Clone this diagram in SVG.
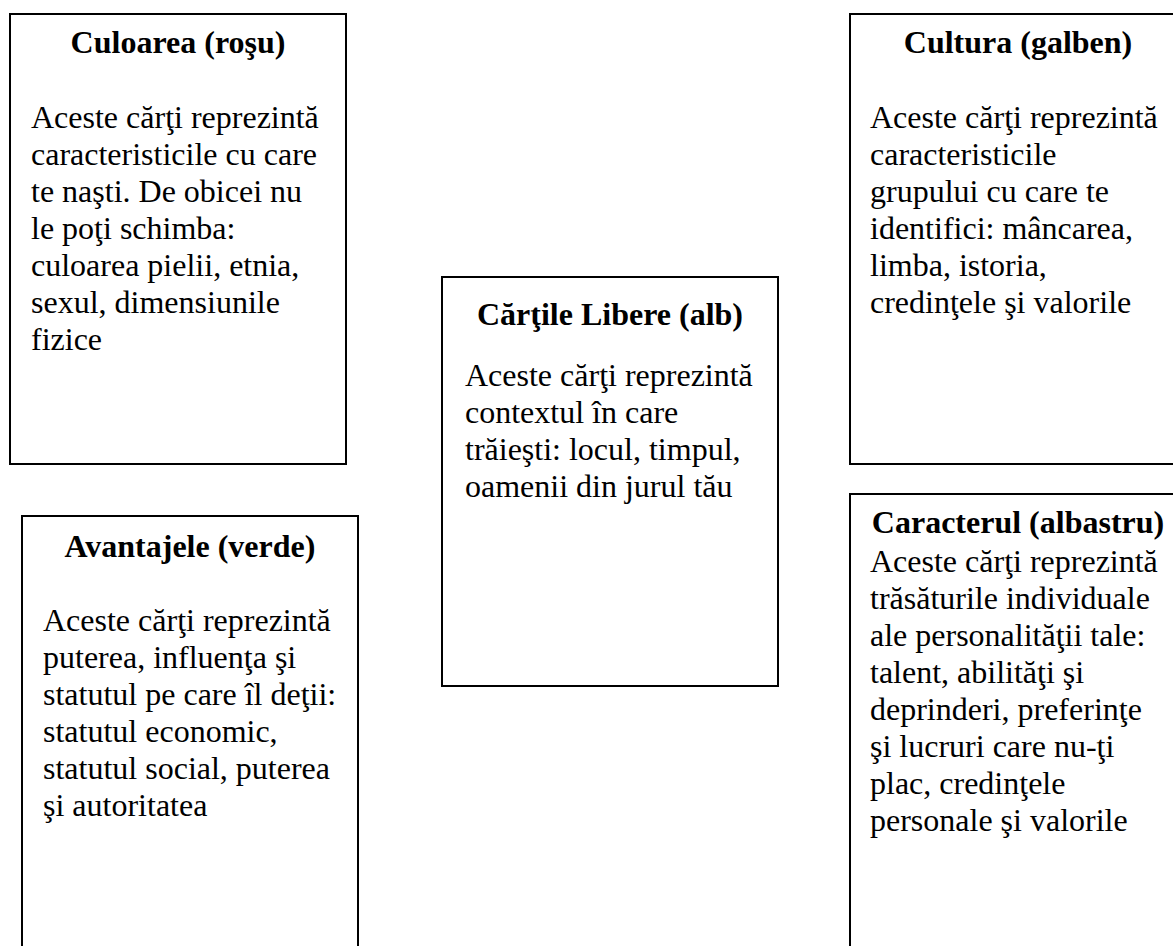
<svg xmlns="http://www.w3.org/2000/svg" width="1173" height="946" viewBox="0 0 1173 946">
<style>
.box{fill:#fff;stroke:#000;stroke-width:2}
.t{font-family:"Liberation Serif","Times New Roman",serif;font-size:32px;fill:#000}
.h{font-weight:bold;text-anchor:middle}
</style>
<rect width="1173" height="946" fill="#fff"/>
<g id="culoarea">
<rect class="box" x="10" y="14" width="336" height="450"/>
<text class="t h" x="178" y="53">Culoarea (roşu)</text>
<text class="t" x="31" y="128">Aceste cărţi reprezintă</text>
<text class="t" x="31" y="165">caracteristicile cu care</text>
<text class="t" x="31" y="202">te naşti. De obicei nu</text>
<text class="t" x="31" y="239">le poţi schimba:</text>
<text class="t" x="31" y="276">culoarea pielii, etnia,</text>
<text class="t" x="31" y="313">sexul, dimensiunile</text>
<text class="t" x="31" y="350">fizice</text>
</g>
<g id="avantajele">
<rect class="box" x="22" y="516" width="336" height="460"/>
<text class="t h" x="190" y="557">Avantajele (verde)</text>
<text class="t" x="43" y="631">Aceste cărţi reprezintă</text>
<text class="t" x="43" y="668">puterea, influenţa şi</text>
<text class="t" x="43" y="705">statutul pe care îl deţii:</text>
<text class="t" x="43" y="742">statutul economic,</text>
<text class="t" x="43" y="779">statutul social, puterea</text>
<text class="t" x="43" y="816">şi autoritatea</text>
</g>
<g id="cartile-libere">
<rect class="box" x="442" y="277" width="336" height="409"/>
<text class="t h" x="610" y="325">Cărţile Libere (alb)</text>
<text class="t" x="465" y="386">Aceste cărţi reprezintă</text>
<text class="t" x="465" y="423">contextul în care</text>
<text class="t" x="465" y="460">trăieşti: locul, timpul,</text>
<text class="t" x="465" y="497">oamenii din jurul tău</text>
</g>
<g id="cultura">
<rect class="box" x="850" y="14" width="336" height="450"/>
<text class="t h" x="1018" y="53">Cultura (galben)</text>
<text class="t" x="870" y="128">Aceste cărţi reprezintă</text>
<text class="t" x="870" y="165">caracteristicile</text>
<text class="t" x="870" y="202">grupului cu care te</text>
<text class="t" x="870" y="239">identifici: mâncarea,</text>
<text class="t" x="870" y="276">limba, istoria,</text>
<text class="t" x="870" y="313">credinţele şi valorile</text>
</g>
<g id="caracterul">
<rect class="box" x="850" y="494" width="336" height="480"/>
<text class="t h" x="1018" y="533">Caracterul (albastru)</text>
<text class="t" x="870" y="572">Aceste cărţi reprezintă</text>
<text class="t" x="870" y="609">trăsăturile individuale</text>
<text class="t" x="870" y="646">ale personalităţii tale:</text>
<text class="t" x="870" y="683">talent, abilităţi şi</text>
<text class="t" x="870" y="720">deprinderi, preferinţe</text>
<text class="t" x="870" y="757">şi lucruri care nu-ţi</text>
<text class="t" x="870" y="794">plac, credinţele</text>
<text class="t" x="870" y="831">personale şi valorile</text>
</g>
<g id="connectors"/>
</svg>
